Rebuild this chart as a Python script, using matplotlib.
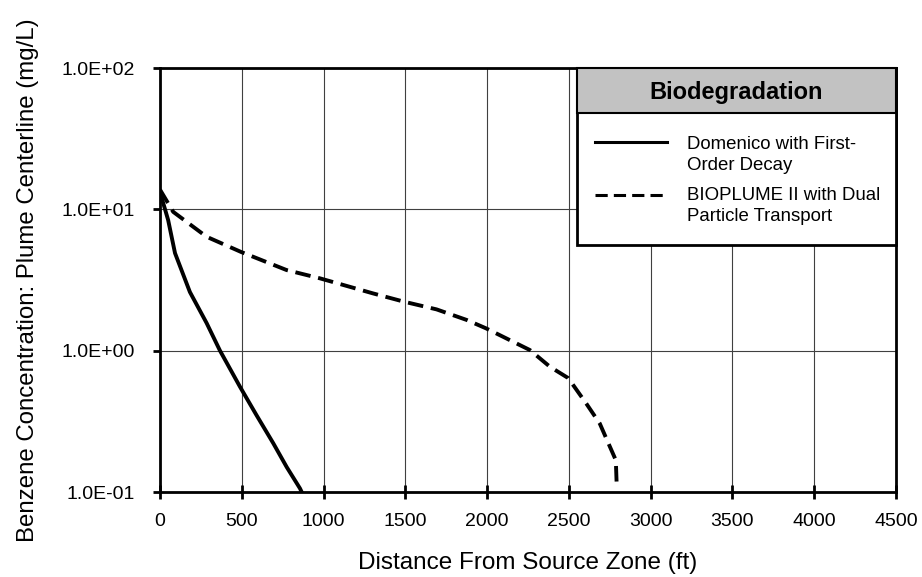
import matplotlib
matplotlib.use('Agg')
import matplotlib.pyplot as plt
from matplotlib.patches import Rectangle
from matplotlib.lines import Line2D

plt.rcParams['font.family'] = ['Liberation Sans', 'DejaVu Sans']

# Domenico with first-order decay (solid)
dom_x = [0, 50, 92, 183, 285, 367, 489, 590, 693, 775, 856, 870]
dom_y = [13.3, 8.4, 4.9, 2.6, 1.57, 1.0, 0.556, 0.35, 0.221, 0.15, 0.106, 0.098]

# BIOPLUME II with dual particle transport (dashed)
bio_x = [0, 81, 285, 495, 774, 978, 1304, 1493, 1691, 1875, 1993, 2262, 2384,
         2496, 2608, 2689, 2751, 2787, 2792]
bio_y = [13.8, 9.6, 6.4, 5.0, 3.72, 3.25, 2.54, 2.22, 1.96, 1.65, 1.44, 1.01,
         0.77, 0.64, 0.42, 0.305, 0.209, 0.168, 0.115]

x_ticks = [0, 500, 1000, 1500, 2000, 2500, 3000, 3500, 4000, 4500]
y_ticks = [0.1, 1, 10, 100]
y_labels = ['1.0E-01', '1.0E+00', '1.0E+01', '1.0E+02']

legend_title = 'Biodegradation'
legend_labels = ['Domenico with First-\nOrder Decay',
                 'BIOPLUME II with Dual\nParticle Transport']

fig = plt.figure(figsize=(9.22, 5.77), dpi=100)
ax = fig.add_axes([0.1735, 0.1473, 0.7983, 0.7348])

ax.plot(dom_x, dom_y, color='black', lw=2.8, solid_capstyle='butt', solid_joinstyle='round')
ax.plot(bio_x, bio_y, color='black', lw=2.8, dashes=(4, 2), dash_capstyle='butt')

ax.set_yscale('log')
ax.set_xlim(0, 4500)
ax.set_ylim(0.1, 100)
ax.set_xticks(x_ticks)
ax.set_xticklabels([str(t) for t in x_ticks])
ax.set_yticks(y_ticks)
ax.set_yticklabels(y_labels)
ax.yaxis.set_minor_locator(matplotlib.ticker.NullLocator())

ax.grid(True, color='0.25', lw=0.8)
ax.set_axisbelow(True)
for sp in ax.spines.values():
    sp.set_linewidth(2)
ax.tick_params(axis='x', direction='inout', length=10, width=2, pad=10, labelsize=14)
ax.tick_params(axis='y', direction='out', length=5, width=2, pad=13, labelsize=14)

ax.set_xlabel('Distance From Source Zone (ft)', fontsize=17.5, labelpad=16)
ax.set_ylabel('Benzene Concentration: Plume Centerline (mg/L)', fontsize=17.3, labelpad=16)

# legend box drawn by hand
lx0, ly0 = 0.5666, 0.5825
ax.add_patch(Rectangle((lx0, ly0), 1 - lx0, 1 - ly0, transform=ax.transAxes,
                       facecolor='white', edgecolor='black', lw=2, zorder=5, clip_on=False))
ax.add_patch(Rectangle((lx0, 0.894), 1 - lx0, 1 - 0.894, transform=ax.transAxes,
                       facecolor='#c2c2c2', edgecolor='black', lw=1.5, zorder=6, clip_on=False))
ax.text((lx0 + 1) / 2, 0.943, legend_title, transform=ax.transAxes, ha='center', va='center',
        fontsize=17, fontweight='bold', zorder=7)

for ly, ty, ls, lab in [(0.8255, 0.794, '-', legend_labels[0]),
                        (0.7005, 0.675, '--', legend_labels[1])]:
    ln = Line2D([0.591, 0.689], [ly, ly], transform=ax.transAxes, color='black',
                lw=2.2, zorder=7)
    if ls == '--':
        ln.set_dashes((4, 2))
    ax.add_line(ln)
    ax.text(0.716, ty, lab, transform=ax.transAxes, ha='left', va='center',
            fontsize=13.4, linespacing=1.3, zorder=7)

fig.savefig('out.png', dpi=100)
